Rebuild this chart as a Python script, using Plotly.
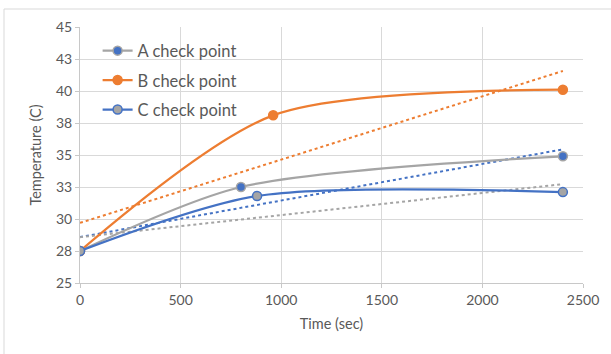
import numpy as np
import plotly.graph_objects as go

# ---- data ----
a_time = [0, 800, 2400]
a_temp = [27.5, 32.5, 34.9]
b_time = [0, 960, 2400]
b_temp = [27.5, 38.1, 40.1]
c_time = [0, 880, 2400]
c_temp = [27.5, 31.8, 32.1]
series_names = ["A check point", "B check point", "C check point"]
x_ticks = [0, 500, 1000, 1500, 2000, 2500]
y_ticks = [25, 27.5, 30, 32.5, 35, 37.5, 40, 42.5, 45]
y_tick_text = ["25", "28", "30", "33", "35", "38", "40", "43", "45"]

GRAY = "#A5A5A5"
ORANGE = "#ED7D31"
BLUE = "#4472C4"
TXT = "#595959"
FONT = "Lato"

fig = go.Figure()

# linear trendlines (Excel-style), colours as in reference
trend_colors = [BLUE, ORANGE, GRAY]
for (xs, ys), col in zip([(a_time, a_temp), (b_time, b_temp), (c_time, c_temp)], trend_colors):
    k, b0 = np.polyfit(xs, ys, 1)
    tx = [min(xs), max(xs)]
    ty = [k * t + b0 for t in tx]
    fig.add_trace(go.Scatter(x=tx, y=ty, mode="lines", showlegend=False,
                             line=dict(color=col, width=2, dash="dot"), hoverinfo="skip"))

specs = [
    (a_time, a_temp, series_names[0], GRAY, BLUE, GRAY),
    (b_time, b_temp, series_names[1], ORANGE, ORANGE, ORANGE),
    (c_time, c_temp, series_names[2], BLUE, GRAY, BLUE),
]
for i, (xs, ys, name, lc, mc, mlc) in enumerate(specs):
    fig.add_trace(go.Scatter(
        x=xs, y=ys, name=name, mode="lines+markers",
        line=dict(color=lc, width=2.25, shape="spline", smoothing=0.8),
        marker=dict(color=mc, size=9, line=dict(color=mlc, width=1.5)),
        legendgroup=f"g{i}",
    ))

fig.update_layout(
    width=611, height=354,
    margin=dict(l=80, r=28, t=27, b=71),
    paper_bgcolor="white", plot_bgcolor="white",
    font=dict(family=FONT, color=TXT, size=14),
    showlegend=True,
    legend=dict(x=0.035, y=0.975, xanchor="left", yanchor="top",
                bgcolor="rgba(255,255,255,0)", font=dict(size=16.5, color=TXT, family=FONT),
                traceorder="grouped", tracegroupgap=5, itemwidth=30),
    xaxis=dict(range=[0, 2500], tickvals=x_ticks, showgrid=True, gridcolor="#D9D9D9",
               gridwidth=1, zeroline=False, showline=True, linecolor="#C8C8C8",
               ticks="outside", ticklen=4, tickcolor="#C8C8C8",
               tickfont=dict(size=14, color=TXT),
               title=dict(text="Time (sec)", font=dict(size=14.5, color=TXT), standoff=12)),
    yaxis=dict(range=[25, 45], tickvals=y_ticks, ticktext=y_tick_text, showgrid=True,
               gridcolor="#D9D9D9", gridwidth=1, zeroline=False, showline=True,
               linecolor="#C8C8C8", ticks="outside", ticklen=4, tickcolor="#C8C8C8",
               tickfont=dict(size=14, color=TXT),
               title=dict(text="Temperature (C)", font=dict(size=14.5, color=TXT), standoff=10)),
    shapes=[dict(type="rect", xref="paper", yref="paper",
                 x0=(4 - 80) / 503, x1=1.3, y0=-0.6, y1=(283 - 9) / 256,
                 line=dict(color="#D9D9D9", width=1), fillcolor="rgba(0,0,0,0)", layer="below")],
)

fig.write_html("out.html")
